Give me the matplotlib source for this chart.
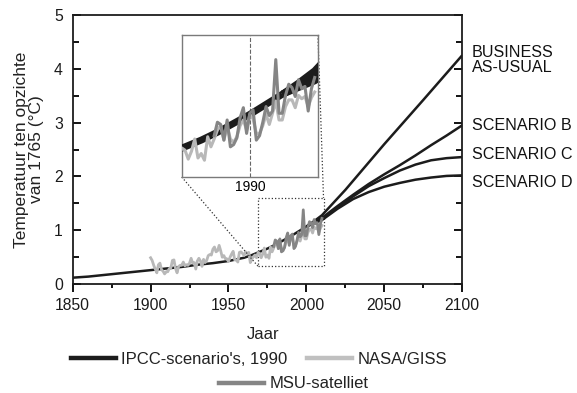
import matplotlib
matplotlib.use("Agg")
import matplotlib.pyplot as plt
from matplotlib.lines import Line2D
from matplotlib.ticker import MultipleLocator
from mpl_toolkits.axes_grid1.inset_locator import mark_inset

plt.rcParams['font.family'] = ['Liberation Sans', 'DejaVu Sans']

# IPCC 1990 curve, history part
hist_years = [1850, 1860, 1870, 1880, 1890, 1900, 1910, 1920, 1930, 1940, 1950,
              1960, 1965, 1970, 1975, 1980, 1985, 1990, 1995, 2000]
hist_vals = [0.12, 0.14, 0.17, 0.20, 0.23, 0.26, 0.29, 0.32, 0.36, 0.39, 0.43,
             0.49, 0.54, 0.60, 0.66, 0.73, 0.81, 0.89, 0.98, 1.07]

# IPCC 1990 scenarios
bau_years = [2000, 2005, 2010, 2025, 2050, 2075, 2100]
bau_vals = [1.07, 1.17, 1.28, 1.75, 2.60, 3.42, 4.25]
b_years = [2000, 2005, 2010, 2020, 2030, 2040, 2050, 2060, 2070, 2080, 2090, 2100]
b_vals = [1.07, 1.15, 1.23, 1.45, 1.66, 1.86, 2.04, 2.21, 2.39, 2.58, 2.76, 2.95]
c_years = [2000, 2005, 2010, 2020, 2030, 2040, 2050, 2060, 2070, 2080, 2090, 2100]
c_vals = [1.07, 1.14, 1.21, 1.42, 1.63, 1.82, 1.97, 2.11, 2.22, 2.30, 2.34, 2.36]
d_years = [2000, 2005, 2010, 2020, 2030, 2040, 2050, 2060, 2070, 2080, 2090, 2100]
d_vals = [1.07, 1.13, 1.19, 1.40, 1.58, 1.71, 1.81, 1.88, 1.94, 1.98, 2.01, 2.02]

scenario_labels = ["BUSINESS\nAS-USUAL", "SCENARIO B", "SCENARIO C", "SCENARIO D"]

# NASA/GISS, 1900-2010
giss_years = list(range(1900, 2011))
giss_vals = [0.49, 0.44, 0.35, 0.28, 0.21, 0.36, 0.39, 0.27, 0.24, 0.19,
             0.23, 0.23, 0.29, 0.30, 0.44, 0.45, 0.29, 0.21, 0.33, 0.35,
             0.35, 0.41, 0.34, 0.36, 0.35, 0.39, 0.48, 0.39, 0.40, 0.28,
             0.43, 0.48, 0.43, 0.33, 0.46, 0.40, 0.44, 0.53, 0.55, 0.54,
             0.65, 0.69, 0.60, 0.62, 0.72, 0.62, 0.50, 0.53, 0.47, 0.47,
             0.42, 0.50, 0.56, 0.61, 0.45, 0.45, 0.41, 0.59, 0.60, 0.57,
             0.53, 0.60, 0.57, 0.59, 0.40, 0.47, 0.51, 0.54, 0.49, 0.59,
             0.57, 0.49, 0.56, 0.67, 0.50, 0.54, 0.48, 0.69, 0.60, 0.67,
             0.75, 0.79, 0.66, 0.78, 0.67, 0.64, 0.69, 0.79, 0.84, 0.75,
             0.89, 0.85, 0.72, 0.72, 0.79, 0.89, 0.80, 0.90, 1.01, 0.84,
             0.84, 0.96, 1.02, 1.02, 0.95, 1.06, 1.03, 1.05, 0.96, 1.04,
             1.09]

# MSU satellite, 1979-2010
msu_years = list(range(1979, 2011))
msu_vals = [0.70, 0.82, 0.80, 0.66, 0.84, 0.60, 0.62, 0.68, 0.86, 0.95,
            0.72, 0.90, 0.93, 0.66, 0.70, 0.82, 0.96, 0.88, 0.92, 1.38,
            0.90, 0.90, 1.06, 1.16, 1.13, 1.05, 1.20, 1.12, 1.14, 0.92,
            1.12, 1.22]

black = "#1c1c1c"
light = "#b8b8b8"
dark = "#858585"

fig = plt.figure(figsize=(5.77, 3.93), dpi=100)
ax = fig.add_axes([0.126, 0.277, 0.675, 0.685])


def draw_series(a, lw_black, lw_gray):
    a.plot(hist_years, hist_vals, color=black, lw=lw_black, zorder=3, solid_capstyle="butt")
    for yrs, vals in [(bau_years, bau_vals), (b_years, b_vals), (c_years, c_vals), (d_years, d_vals)]:
        a.plot(yrs, vals, color=black, lw=lw_black, zorder=3, solid_capstyle="butt")
    a.plot(giss_years, giss_vals, color=light, lw=lw_gray, zorder=4)
    a.plot(msu_years, msu_vals, color=dark, lw=lw_gray, zorder=5)


draw_series(ax, 1.8, 2.0)

ax.set_xlim(1850, 2100)
ax.set_ylim(0, 5)
ax.xaxis.set_major_locator(MultipleLocator(50))
ax.xaxis.set_minor_locator(MultipleLocator(25))
ax.yaxis.set_major_locator(MultipleLocator(1))
ax.yaxis.set_minor_locator(MultipleLocator(0.5))
ax.tick_params(axis="x", which="both", direction="out", top=False, width=1.3)
ax.tick_params(axis="x", which="major", length=6, pad=4, labelsize=11.3)
ax.tick_params(axis="x", which="minor", length=3)
ax.tick_params(axis="y", which="both", direction="in", left=True, right=True, width=1.3)
ax.tick_params(axis="y", which="major", length=6, pad=7, labelsize=11.3)
ax.tick_params(axis="y", which="minor", length=4.5)
ax.tick_params(labelcolor="#1a1a1a")
for sp in ax.spines.values():
    sp.set_linewidth(1.3)
    sp.set_color(black)

fig.text(0.050, 0.6196, "Temperatuur ten opzichte\nvan 1765 (°C)", rotation=90,
         ha="center", va="center", fontsize=12.5, linespacing=1.05, color="#222222")
fig.text(0.456, 0.1476, "Jaar", ha="center", va="center", fontsize=12, color="#222222")

label_y = [4.17, 2.955, 2.40, 1.88]
for lab, yv in zip(scenario_labels, label_y):
    ax.text(2106, yv, lab, ha="left", va="center", fontsize=11.6, linespacing=1.0,
            color="#111111", clip_on=False)

# inset
axins = fig.add_axes([0.315, 0.5496, 0.236, 0.3613])
draw_series(axins, 5.0, 2.2)
axins.set_xlim(1969, 2011)
axins.set_ylim(0.33, 1.60)
axins.set_yticks([])
axins.set_xticks([1990])
axins.set_xticklabels(["1990"], fontsize=10)
axins.tick_params(axis="x", length=0, pad=2)
axins.axvline(1990, color="#666666", lw=0.8, ls="--", zorder=1)
for sp in axins.spines.values():
    sp.set_color("#7a7a7a")
    sp.set_linewidth(1.0)
mark_inset(ax, axins, loc1=1, loc2=3, fc="none", ec="#333333", ls=":", lw=0.9)

# legend
h_ipcc = Line2D([], [], color=black, lw=3.2)
h_giss = Line2D([], [], color="#c0c0c0", lw=3.2)
h_msu = Line2D([], [], color=dark, lw=3.2)
leg1 = fig.legend([h_ipcc, h_giss], ["IPCC-scenario's, 1990", "NASA/GISS"], ncol=2,
                  loc="center", bbox_to_anchor=(0.449, 0.0865), frameon=False,
                  fontsize=12, handlelength=2.7, handletextpad=0.3, columnspacing=1.2,
                  borderpad=0)
leg2 = fig.legend([h_msu], ["MSU-satelliet"], loc="center", bbox_to_anchor=(0.509, 0.023),
                  frameon=False, fontsize=12, handlelength=2.7, handletextpad=0.3, borderpad=0)
for t in leg1.get_texts() + leg2.get_texts():
    t.set_color("#222222")

fig.savefig("out.png", dpi=100)
